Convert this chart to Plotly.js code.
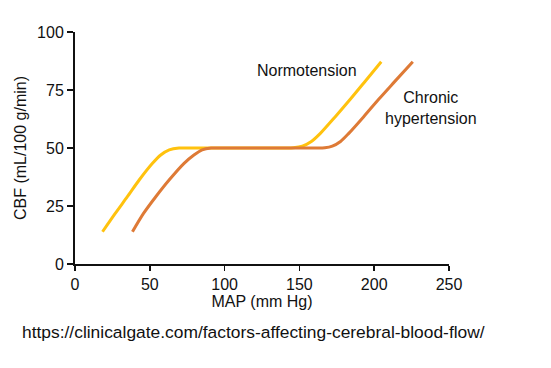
<!DOCTYPE html>
<html>
<head>
<meta charset="utf-8">
<script src="https://cdn.plot.ly/plotly-3.0.1.min.js"></script>
<style>html,body{margin:0;padding:0;background:#fff;}#chart{width:551px;height:368px;}</style>
</head>
<body>
<div id="chart"></div>
<script>
// MAP (mm Hg) and CBF (mL/100 g/min)
const normoMAP = [18.4, 26.9, 35, 42.9, 51.8, 57.3, 63, 69.5, 76, 110, 140, 146, 152, 158, 164, 174, 184, 194, 204.7];
const normoCBF = [13.9, 21.8, 29, 36.2, 43.4, 47, 49.2, 50, 50, 50, 50, 50.1, 50.8, 52.8, 56.3, 63.5, 71, 78.8, 87.2];
const chronicMAP = [38.4, 45.8, 54, 62.9, 72.9, 79.5, 85, 91, 97, 130, 161, 167, 172, 177.5, 183, 193, 203, 213.5, 225.8];
const chronicCBF = [13.9, 21.8, 29, 36.2, 43.4, 47, 49.2, 50, 50, 50, 50, 50.1, 50.8, 52.8, 56.3, 63.5, 71, 78.5, 87.2];
const xTicks = [0, 50, 100, 150, 200, 250];
const yTicks = [0, 25, 50, 75, 100];
const labelNormo = "Normotension";
const labelChronic = "Chronic<br>hypertension";
const sourceText = "https://clinicalgate.com/factors-affecting-cerebral-blood-flow/";

const font = "Liberation Sans, Arial, sans-serif";
const traces = [
  {x: normoMAP, y: normoCBF, mode: "lines", line: {color: "#FFC20E", width: 3, shape: "spline", smoothing: 0.8}, hoverinfo: "skip"},
  {x: chronicMAP, y: chronicCBF, mode: "lines", line: {color: "#DE7A36", width: 3, shape: "spline", smoothing: 0.8}, hoverinfo: "skip"}
];
const layout = {
  width: 551, height: 368,
  margin: {l: 75, r: 102, t: 32, b: 104},
  paper_bgcolor: "#fff", plot_bgcolor: "#fff",
  showlegend: false,
  font: {family: font, size: 15, color: "#111"},
  xaxis: {
    range: [0, 250], tickvals: xTicks, ticktext: xTicks.map(String),
    showgrid: false, zeroline: false, showline: true, linecolor: "#111", linewidth: 2,
    ticks: "outside", ticklen: 5, tickwidth: 1.5, tickcolor: "#111",
    tickfont: {family: font, size: 16, color: "#111"},
    title: {text: "MAP (mm Hg)", font: {family: font, size: 16, color: "#111"}, standoff: 4},
    fixedrange: true
  },
  yaxis: {
    range: [0, 100], tickvals: yTicks, ticktext: yTicks.map(String),
    showgrid: false, zeroline: false, showline: true, linecolor: "#111", linewidth: 2,
    ticks: "outside", ticklen: 6, tickwidth: 1.5, tickcolor: "#111",
    tickfont: {family: font, size: 16, color: "#111"},
    title: {text: "CBF (mL/100 g/min)", font: {family: font, size: 16, color: "#111"}, standoff: 6},
    fixedrange: true
  },
  annotations: [
    {x: 155.3, y: 83.3, xref: "x", yref: "y", text: labelNormo, showarrow: false, font: {family: font, size: 16, color: "#111"}},
    {x: 238, y: 67.2, xref: "x", yref: "y", text: labelChronic, showarrow: false, align: "center", font: {family: font, size: 16, color: "#111"}},
    {x: 0.5, y: 0, xref: "paper", yref: "paper", xanchor: "center", yanchor: "middle",
     text: sourceText, showarrow: false, font: {family: font, size: 17.4, color: "#111"}}
  ]
};
// place source text in paper coordinates relative to plot area
layout.annotations[2].x = (253 - 75) / (551 - 75 - 102);
layout.annotations[2].y = -(332 - 264) / (264 - 32);
Plotly.newPlot("chart", traces, layout, {displayModeBar: false, staticPlot: true});
</script>
</body>
</html>
